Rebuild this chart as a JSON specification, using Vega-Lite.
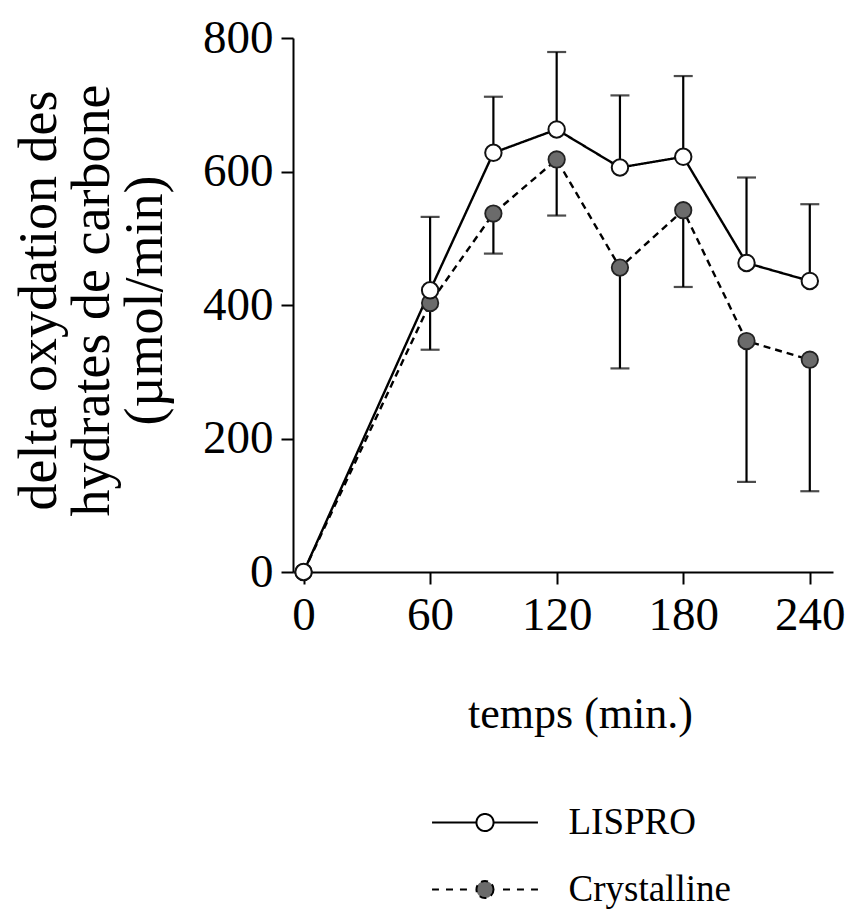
{
  "$schema": "https://vega.github.io/schema/vega-lite/v6.json",
  "width": 540,
  "height": 534,
  "autosize": {"type": "none"},
  "padding": {"left": 293, "top": 38, "right": 19, "bottom": 347},
  "background": "white",
  "config": {
    "view": {"stroke": null},
    "font": "Liberation Serif",
    "axis": {
      "grid": false,
      "domainColor": "black",
      "domainWidth": 2,
      "tickColor": "black",
      "tickWidth": 2,
      "tickSize": 12,
      "labelFont": "Liberation Serif",
      "labelFontSize": 47,
      "labelColor": "black",
      "titleFont": "Liberation Serif",
      "titleFontWeight": "normal",
      "titleColor": "black"
    },
    "legend": {
      "labelFont": "Liberation Serif",
      "labelFontSize": 37,
      "labelColor": "black",
      "labelLimit": 400
    }
  },
  "data": {
    "values": [
      {"t": 0, "series": "Crystalline", "value": 0, "err": null},
      {"t": 60, "series": "Crystalline", "value": 403, "err": 333},
      {"t": 90, "series": "Crystalline", "value": 537, "err": 477},
      {"t": 120, "series": "Crystalline", "value": 618, "err": 534},
      {"t": 150, "series": "Crystalline", "value": 456, "err": 305},
      {"t": 180, "series": "Crystalline", "value": 542, "err": 427},
      {"t": 210, "series": "Crystalline", "value": 346, "err": 135},
      {"t": 240, "series": "Crystalline", "value": 318, "err": 121},
      {"t": 0, "series": "LISPRO", "value": 0, "err": null},
      {"t": 60, "series": "LISPRO", "value": 422, "err": 532},
      {"t": 90, "series": "LISPRO", "value": 628, "err": 712},
      {"t": 120, "series": "LISPRO", "value": 663, "err": 779},
      {"t": 150, "series": "LISPRO", "value": 606, "err": 714},
      {"t": 180, "series": "LISPRO", "value": 622, "err": 743},
      {"t": 210, "series": "LISPRO", "value": 463, "err": 591},
      {"t": 240, "series": "LISPRO", "value": 436, "err": 551}
    ]
  },
  "encoding": {
    "x": {
      "field": "t",
      "type": "quantitative",
      "scale": {"domain": [-5, 251], "nice": false, "zero": false},
      "axis": {
        "values": [0, 60, 120, 180, 240],
        "labelPadding": 8,
        "title": "temps (min.)",
        "titleFontSize": 44,
        "titleX": 287,
        "titleY": 155,
        "titleAlign": "center",
        "titleBaseline": "alphabetic"
      }
    },
    "y": {
      "field": "value",
      "type": "quantitative",
      "scale": {"domain": [0, 800], "nice": false},
      "axis": {
        "values": [0, 200, 400, 600, 800],
        "labelPadding": 8,
        "title": ["delta oxydation des", "hydrates de carbone", "(µmol/min)"],
        "titleFontSize": 54,
        "titleLineHeight": 53,
        "titleAngle": -90,
        "titleX": -238,
        "titleY": 262,
        "titleAlign": "center",
        "titleBaseline": "alphabetic"
      }
    }
  },
  "layer": [
    {
      "transform": [{"filter": "datum.err != null"}],
      "mark": {"type": "rule", "color": "black", "strokeWidth": 2.2},
      "encoding": {"y2": {"field": "err"}}
    },
    {
      "transform": [{"filter": "datum.err != null"}],
      "mark": {"type": "tick", "orient": "horizontal", "color": "black", "size": 19, "thickness": 2.2},
      "encoding": {"y": {"field": "err", "type": "quantitative"}}
    },
    {
      "mark": {"type": "line", "color": "black", "strokeWidth": 2.4},
      "encoding": {
        "strokeDash": {
          "field": "series",
          "type": "nominal",
          "scale": {"domain": ["LISPRO", "Crystalline"], "range": [[1, 0], [7, 5]]},
          "legend": {
            "title": null,
            "orient": "none",
            "legendX": 173.5,
            "legendY": 766,
            "padding": 0,
            "symbolSize": 900,
            "symbolStrokeColor": "black",
            "symbolStrokeWidth": 2,
            "labelOffset": 65,
            "labelLimit": 400,
            "rowPadding": 29,
            "labelBaseline": "middle",
            "encode": {
              "symbols": {
                "update": {
                  "shape": {"signal": "datum.value === 'LISPRO' ? 'M-3.53,0L-0.57,0M0.57,0A0.57,0.57,0,1,1,-0.57,0A0.57,0.57,0,1,1,0.57,0L3.53,0' : 'M-3.53,0L-3.07,0M-2.6,0L-2.13,0M-1.67,0L-1.2,0M0.57,0A0.57,0.57,0,1,1,-0.57,0A0.57,0.57,0,1,1,0.57,0M1.2,0L1.67,0M2.13,0L2.6,0M3.07,0L3.53,0'"},
                  "fill": {"signal": "datum.value === 'LISPRO' ? 'white' : '#6b6b6b'"},
                  "strokeDash": {"value": [1, 0]},
                  "stroke": {"value": "black"},
                  "strokeWidth": {"value": 2},
                  "opacity": {"value": 1}
                }
              }
            }
          }
        }
      }
    },
    {
      "transform": [{"filter": "datum.series == 'Crystalline'"}],
      "mark": {"type": "point", "filled": true, "size": 270, "fill": "#6b6b6b", "stroke": "#222222", "strokeWidth": 1.8, "opacity": 1}
    },
    {
      "transform": [{"filter": "datum.series == 'LISPRO'"}],
      "mark": {"type": "point", "filled": true, "size": 270, "fill": "white", "stroke": "#111111", "strokeWidth": 2, "opacity": 1}
    }
  ]
}
